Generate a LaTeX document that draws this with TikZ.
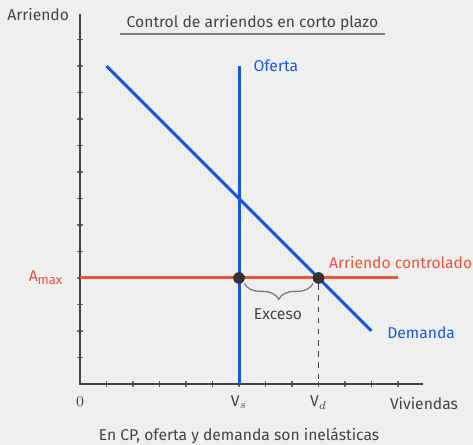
\documentclass[tikz,border=0pt]{standalone}
\usepackage{fontspec}
\setmainfont{Fira Sans}
\usepackage{amsmath}
\usetikzlibrary{positioning,decorations.pathreplacing}
\definecolor{fondo}{HTML}{EFEFEF}
\definecolor{ejes}{HTML}{444444}
\definecolor{azul}{HTML}{1A56DB}
\definecolor{rojo}{HTML}{E8553D}
\definecolor{punto}{HTML}{333333}
\tikzset{
  eje/.style={draw=ejes,line width=0.7pt},
  marca/.style={draw=ejes!80,line width=0.6pt},
  curva/.style={draw=azul,line width=1.6pt},
  tope/.style={draw=rojo,line width=1.6pt},
  etq/.style={text=ejes,font=\fontsize{8.4}{10}\selectfont},
  etqazul/.style={text=azul,font=\fontsize{8.4}{10}\selectfont},
  etqroja/.style={text=rojo,font=\fontsize{8.4}{10}\selectfont},
  cruce/.style={circle,fill=punto,inner sep=0pt,minimum size=2.2mm}
}
\begin{document}
\begin{tikzpicture}[x=0.5cm,y=0.5cm]
\useasboundingbox[fill=fondo] (-3.02,-2.30) rectangle (14.83,14.49);
% ejes
\coordinate (O) at (0,0);
\coordinate (ytop) at (0,13.96);
\coordinate (xend) at (12.95,0);
\foreach \k in {1,...,13} \draw[marca] (-0.12,\k)--(0.12,\k);
\foreach \k in {1,...,12} \draw[marca] (\k,-0.12)--(\k,0.12);
\draw[eje] (ytop)--(O)--(xend);
\node[etq] (arriendo) at (-1.58,13.96) {Arriendo};
\node[etq] (viviendas) at (12.98,-0.72) {Viviendas};
\node[etq] (cero) at (0,-0.66) {$0$};
% titulo
\node[etq] (titulo) at (6.51,13.62) {Control de arriendos en corto plazo};
\draw[ejes!70,line width=0.8pt] ([yshift=0.06cm]titulo.south west) -- ([yshift=0.06cm]titulo.south east);
% oferta y demanda
\coordinate (ofB) at (6,0);
\coordinate (ofT) at (6,12);
\coordinate (deT) at (1,12);
\coordinate (deB) at (11,2);
\draw[curva] (ofB)--(ofT);
\draw[curva] (deT)--(deB);
\node[etqazul,anchor=west] (oferta) at (6.3,12) {Oferta};
\node[etqazul,anchor=west] (demanda) at (11.35,1.92) {Demanda};
% arriendo controlado
\coordinate (rA) at (0,4);
\coordinate (rB) at (12,4);
\draw[tope] (rA)--(rB);
\node[etqroja,anchor=east] (amax) at (-0.42,4) {A{\fontsize{7}{8}\selectfont\raisebox{-0.45ex}{max}}};
\node[etqroja,anchor=west] (control) at (9.15,4.6) {Arriendo controlado};
% puntos
\node[cruce] (Vs) at (6,4) {};
\node[cruce] (Vd) at (9,4) {};
\draw[ejes,dashed,line width=0.6pt] (Vd)--(9,0);
\draw[ejes!70,line width=0.7pt,decorate,decoration={brace,mirror,amplitude=0.3cm}]
  ([xshift=0.02cm,yshift=-0.02cm]Vs.south east)--([xshift=-0.02cm,yshift=-0.02cm]Vd.south west);
\node[etq] (exceso) at (7.47,2.64) {Exceso};
\node[etq] (vs) at (6,-0.7) {$\mathrm{V}_s$};
\node[etq] (vd) at (9,-0.7) {$\mathrm{V}_d$};
\node[etq] (pie) at (6,-1.96) {En CP, oferta y demanda son inelásticas};
\end{tikzpicture}
\end{document}
